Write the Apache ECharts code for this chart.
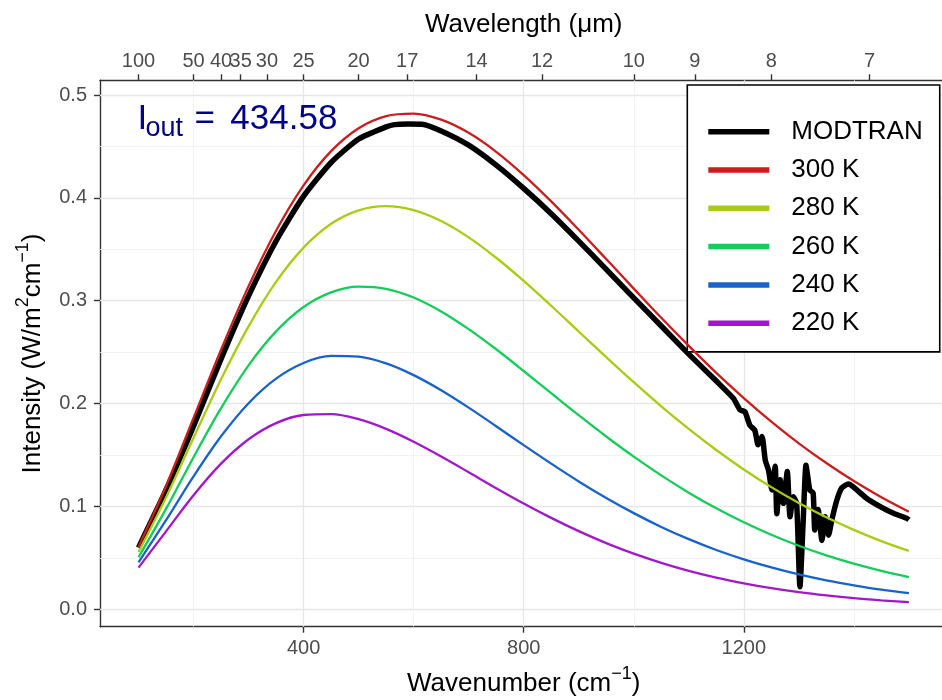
<!DOCTYPE html>
<html>
<head>
<meta charset="utf-8">
<script src="https://cdn.jsdelivr.net/npm/echarts@6.0.0/dist/echarts.min.js"></script>
<style>
html,body{margin:0;padding:0;background:#fff;}
#chart{width:942px;height:700px;}
</style>
</head>
<body>
<div id="chart"></div>
<script>
// ---- data ----
const wavenumbers = [100,150,200,250,300,350,400,450,500,550,600,650,700,750,800,850,900,950,1000,1050,1100,1150,1200,1250,1300,1350,1400,1450,1500];
const bb300 = [0.0608,0.1199,0.1860,0.2524,0.3142,0.3681,0.4122,0.4454,0.4677,0.4795,0.4819,0.4760,0.4632,0.4448,0.4222,0.3966,0.3690,0.3405,0.3118,0.2834,0.2561,0.2299,0.2054,0.1825,0.1614,0.1422,0.1247,0.1090,0.0949];
const bb280 = [0.0557,0.1087,0.1668,0.2237,0.2751,0.3183,0.3516,0.3748,0.3879,0.3920,0.3881,0.3775,0.3616,0.3418,0.3193,0.2951,0.2701,0.2452,0.2208,0.1974,0.1754,0.1549,0.1360,0.1188,0.1034,0.0895,0.0772,0.0663,0.0568];
const bb260 = [0.0506,0.0976,0.1479,0.1956,0.2372,0.2702,0.2939,0.3082,0.3137,0.3116,0.3031,0.2896,0.2724,0.2528,0.2317,0.2101,0.1887,0.1680,0.1484,0.1302,0.1134,0.0982,0.0846,0.0725,0.0618,0.0525,0.0444,0.0374,0.0314];
const bb240 = [0.0456,0.0866,0.1292,0.1682,0.2004,0.2243,0.2395,0.2463,0.2457,0.2391,0.2277,0.2130,0.1961,0.1780,0.1596,0.1416,0.1243,0.1082,0.0935,0.0801,0.0682,0.0577,0.0486,0.0407,0.0339,0.0281,0.0233,0.0191,0.0157];
const bb220 = [0.0405,0.0758,0.1109,0.1416,0.1653,0.1810,0.1889,0.1897,0.1848,0.1754,0.1629,0.1486,0.1333,0.1178,0.1029,0.0889,0.0760,0.0644,0.0541,0.0452,0.0374,0.0308,0.0253,0.0206,0.0167,0.0135,0.0108,0.0087,0.0069];

const modtranWn = [100,150,200,250,300,350,400,450,500,550,565,590,615,650,700,750,800,850,900,950,1000,1050,1100,1150,1181,1193,1202,1211,1220,1226,1233,1239,1245,1251,1257,1260,1266,1272,1279,1284,1290,1296,1302,1308,1313,1317,1320,1326,1329,1335,1342,1348,1354,1360,1369,1378,1390,1399,1423,1448,1472,1496,1500];
const modtranI  = [0.0600,0.1160,0.1780,0.2434,0.3047,0.3581,0.4017,0.4344,0.4572,0.4690,0.4712,0.4718,0.4716,0.4650,0.4512,0.4318,0.4092,0.3846,0.3580,0.3305,0.3028,0.2754,0.2481,0.2219,0.2051,0.1940,0.1920,0.1790,0.1740,0.1600,0.1680,0.1450,0.1350,0.1160,0.1390,0.0930,0.1260,0.1030,0.1340,0.0900,0.1095,0.1030,0.0220,0.0870,0.1400,0.1260,0.1160,0.1130,0.0770,0.0970,0.0670,0.0900,0.0720,0.0870,0.1060,0.1180,0.1218,0.1190,0.1080,0.0998,0.0933,0.0885,0.0870];

const seriesNames = ['MODTRAN','300 K','280 K','260 K','240 K','220 K'];
const seriesColors = ['#000000','#CC1C1C','#A8CC12','#14CC58','#1762CC','#A317CC'];

const xTicks = [400, 800, 1200];
const xMinor = [200, 600, 1000, 1400];
const yTicks = [0, 0.1, 0.2, 0.3, 0.4, 0.5];
const yMinor = [0.05, 0.15, 0.25, 0.35, 0.45];
const wavelengthTicks = [100, 50, 40, 35, 30, 25, 20, 17, 14, 12, 10, 9, 8, 7];
const ioutLabel = '434.58';

// ---- build options ----
const FONT = "'Liberation Sans', Arial, Helvetica, sans-serif";
const topTickPos = wavelengthTicks.map(l => 10000 / l);
const pairs = (xs, ys) => xs.map((x, i) => [x, ys[i]]);
const bbData = [bb300, bb280, bb260, bb240, bb220];

const majorGrid = {color: '#E6E6E6', width: 1.3, type: 'solid'};
const minorGrid = {color: '#EFEFEF', width: 0.8, type: 'solid'};
const gridLines = []
  .concat(yTicks.map(v => ({yAxis: v, lineStyle: majorGrid})))
  .concat(yMinor.map(v => ({yAxis: v, lineStyle: minorGrid})))
  .concat(xTicks.map(v => ({xAxis: v, lineStyle: majorGrid})))
  .concat(xMinor.map(v => ({xAxis: v, lineStyle: minorGrid})));

const axisLineStyle = {color: '#333333', width: 1.4};
const tickLabel = {fontSize: 20, color: '#4D4D4D', fontFamily: FONT, hideOverlap: false};
const titleStyle = {
  fontSize: 26, color: '#000', fontFamily: FONT, lineHeight: 38,
  rich: {sup: {fontSize: 18, lineHeight: 18, verticalAlign: 'top', color: '#000', fontFamily: FONT}}
};

const series = [];
series.push({
  name: '__grid', type: 'line', data: [], silent: true,
  markLine: {silent: true, z: 1, symbol: ['none', 'none'], label: {show: false},
    emphasis: {disabled: true}, animation: false, data: gridLines}
});
series.push({
  name: seriesNames[0], type: 'line', data: pairs(modtranWn, modtranI),
  showSymbol: false, symbol: 'none', smooth: 0.2, z: 3,
  lineStyle: {color: seriesColors[0], width: 5.5, join: 'round'},
  itemStyle: {color: seriesColors[0]}
});
bbData.forEach((arr, k) => {
  series.push({
    name: seriesNames[k + 1], type: 'line', data: pairs(wavenumbers, arr),
    showSymbol: false, symbol: 'none', smooth: 0.34, z: 4,
    lineStyle: {color: seriesColors[k + 1], width: 2.3},
    itemStyle: {color: seriesColors[k + 1]}
  });
});

const option = {
  animation: false,
  backgroundColor: '#ffffff',
  grid: {left: 100, right: -5.4, top: 80.3, bottom: 73.3, containLabel: false, outerBoundsMode: 'none'},
  xAxis: [
    {
      type: 'value', position: 'bottom', min: 30, max: 1570,
      axisLine: {show: true, onZero: false, lineStyle: axisLineStyle},
      axisTick: {show: true, length: 6, customValues: xTicks, lineStyle: axisLineStyle},
      axisLabel: Object.assign({customValues: xTicks, margin: 12, formatter: v => String(v)}, tickLabel),
      splitLine: {show: false},
      name: 'Wavenumber (cm{sup|\u22121})', nameLocation: 'middle', nameGap: 38,
      nameMoveOverlap: false,
      nameTextStyle: titleStyle
    },
    {
      type: 'value', position: 'top', min: 30, max: 1570,
      axisLine: {show: true, onZero: false, lineStyle: axisLineStyle},
      axisTick: {show: true, length: 6, customValues: topTickPos, lineStyle: axisLineStyle},
      axisLabel: Object.assign({customValues: topTickPos, margin: 9,
        formatter: v => String(Math.round(10000 / v))}, tickLabel),
      splitLine: {show: false},
      name: 'Wavelength (\u03bcm)', nameLocation: 'middle', nameGap: 40,
      nameMoveOverlap: false,
      nameTextStyle: {fontSize: 26, color: '#000', fontFamily: FONT, lineHeight: 30}
    }
  ],
  yAxis: {
    type: 'value', min: -0.0169, max: 0.5143,
    axisLine: {show: true, onZero: false, lineStyle: axisLineStyle},
    axisTick: {show: true, length: 6, customValues: yTicks, lineStyle: axisLineStyle},
    axisLabel: Object.assign({customValues: yTicks, margin: 13, formatter: v => v.toFixed(1)}, tickLabel),
    splitLine: {show: false},
    name: 'Intensity (W/m{sup|2}cm{sup|\u22121})', nameLocation: 'middle', nameGap: 48,
    nameMoveOverlap: false,
    nameTextStyle: titleStyle
  },
  legend: {
    orient: 'vertical', left: 687.3, top: 85,
    data: seriesNames.map(n => ({name: n, icon: 'rect'})),
    itemWidth: 61, itemHeight: 5.5, itemGap: 12.3,
    padding: [33.7, 17, 15.7, 21],
    backgroundColor: '#ffffff', borderColor: '#000000', borderWidth: 1.6, borderRadius: 0,
    selectedMode: false,
    textStyle: {fontSize: 26, color: '#000', fontFamily: FONT, padding: [0, 0, 0, 17]}
  },
  graphic: [
    {type: 'text', x: 137.4, y: 119.6, z: 10,
      style: {text: 'I', fontSize: 35, fontFamily: FONT, fill: '#00008B', align: 'left', verticalAlign: 'middle'}},
    {type: 'text', x: 145.5, y: 128.5, z: 10,
      style: {text: 'out', fontSize: 27, fontFamily: FONT, fill: '#00008B', align: 'left', verticalAlign: 'middle'}},
    {type: 'text', x: 194.5, y: 119.6, z: 10,
      style: {text: '=', fontSize: 35, fontFamily: FONT, fill: '#00008B', align: 'left', verticalAlign: 'middle'}},
    {type: 'text', x: 230.3, y: 119.6, z: 10,
      style: {text: ioutLabel, fontSize: 35, fontFamily: FONT, fill: '#00008B', align: 'left', verticalAlign: 'middle'}}
  ],
  series: series
};

const chart = echarts.init(document.getElementById('chart'), null, {renderer: 'canvas', width: 942, height: 700});
chart.setOption(option);
</script>
</body>
</html>
